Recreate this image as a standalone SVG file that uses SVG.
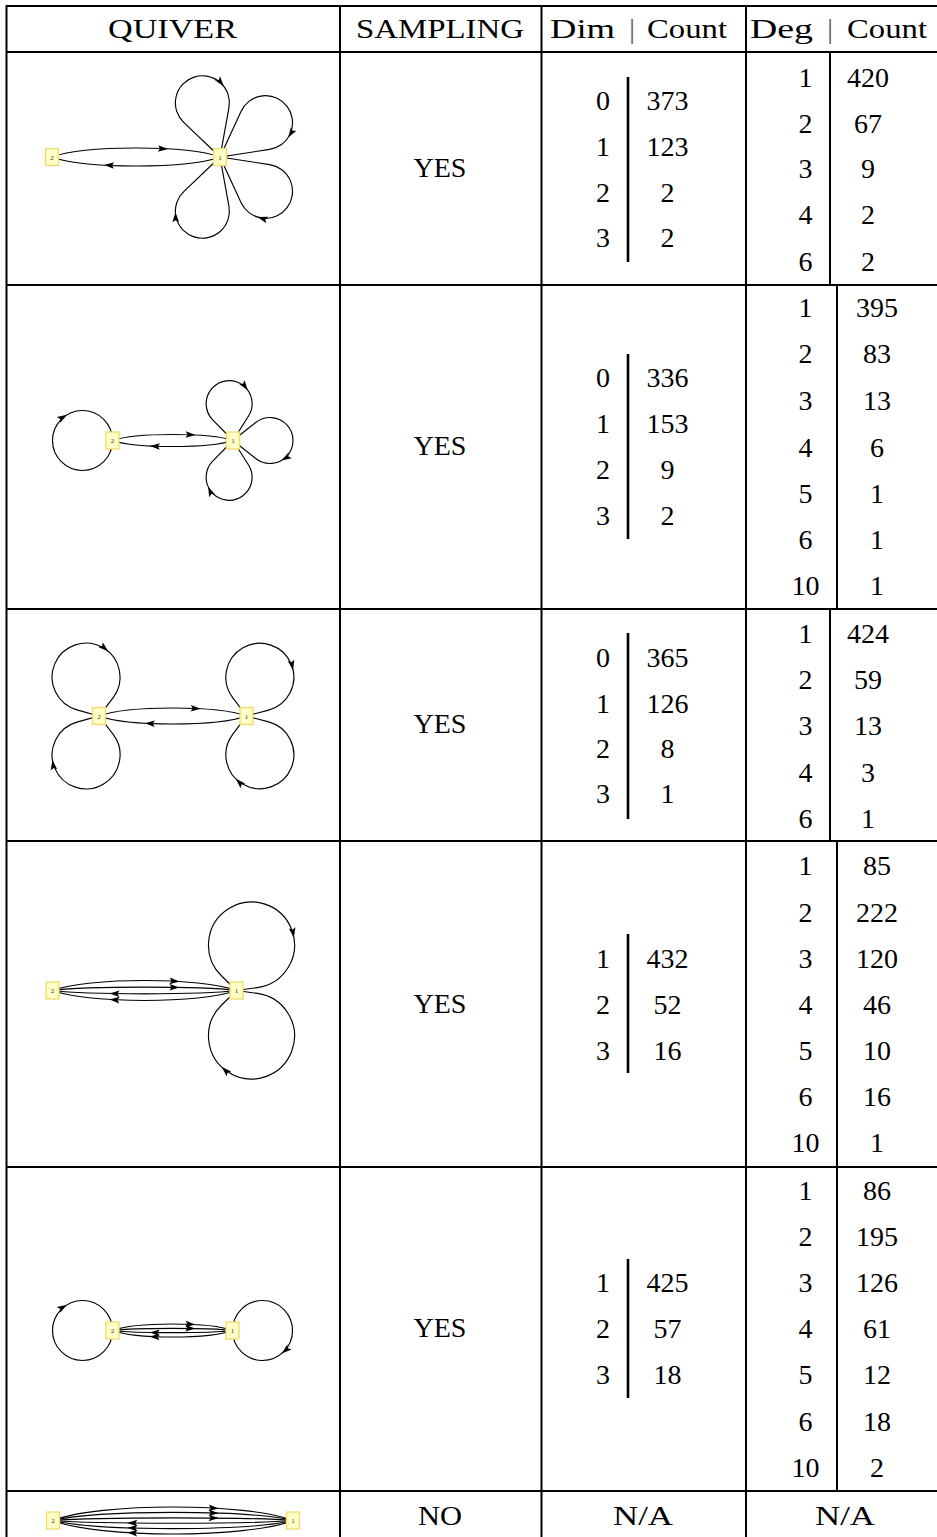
<svg xmlns="http://www.w3.org/2000/svg" width="937" height="1537" viewBox="0 0 937 1537">
<style>
.t{font-family:"Liberation Serif","DejaVu Serif","Times New Roman",serif;font-size:28px;fill:#000;text-anchor:middle}
.bar{font-family:"Liberation Serif","DejaVu Serif","Times New Roman",serif;font-size:28px;fill:#555;text-anchor:middle}
.nl{font-family:"Liberation Serif","DejaVu Serif",serif;font-size:7px;fill:#333;text-anchor:middle}
.node{fill:#ffffc6;stroke:#f0da6a;stroke-width:1.3}
.e{fill:none;stroke:#000;stroke-width:1.15}
.g{stroke:#000;stroke-width:2;fill:none}
.db{stroke:#000;stroke-width:2.6}
</style>
<defs>
<path id="ah" d="M0,0 L-10,-3.3 L-8,0 L-10,3.3 Z" fill="#000"/>
</defs>
<rect width="937" height="1537" fill="#fff"/>

<g id="grid">
<path class="g" d="M6,6 H937 M6,52 H937 M6,285 H937 M6,609 H937 M6,841 H937 M6,1167 H937 M6,1491 H937"/>
<path class="g" d="M6.5,5 V1537 M340,6 V1537 M541.5,6 V1537 M746,6 V1537"/>
<path class="g" d="M830,52 V285 M837,285 V609 M830,609 V841 M837,841 V1167 M837,1167 V1491"/>
<path class="db" d="M628,77 V262 M628,354 V539 M628,633 V819 M628,934 V1073 M628,1259 V1398"/>
</g>

<g id="header">
<text class="t" x="172.5" y="38" textLength="129" lengthAdjust="spacingAndGlyphs">QUIVER</text>
<text class="t" x="440" y="38" textLength="168" lengthAdjust="spacingAndGlyphs">SAMPLING</text>
<text class="t" x="582.5" y="38" textLength="65" lengthAdjust="spacingAndGlyphs">Dim</text>
<text class="bar" x="632" y="38">|</text>
<text class="t" x="687" y="38" textLength="80" lengthAdjust="spacingAndGlyphs">Count</text>
<text class="t" x="781.5" y="38" textLength="63" lengthAdjust="spacingAndGlyphs">Deg</text>
<text class="bar" x="830" y="38">|</text>
<text class="t" x="887" y="38" textLength="80" lengthAdjust="spacingAndGlyphs">Count</text>
</g>

<!-- Row 1 quiver -->
<g id="q1-edges">
<path class="e" d="M52,157 C85,145 187,145 220,157"/>
<path class="e" d="M220,157 C187,169 85,169 52,157"/>
<path class="e" d="M220,157 L183.73,122.30 A27,27 0 1 1 228.95,107.60 Z"/>
<path class="e" d="M220,157 L241.00,111.40 A27,27 0 1 1 269.62,149.38 Z"/>
<path class="e" d="M220,157 L269.62,164.62 A27,27 0 1 1 241.00,202.60 Z"/>
<path class="e" d="M220,157 L228.95,206.40 A27,27 0 1 1 183.73,191.70 Z"/>
<use href="#ah" transform="translate(168,149) rotate(3)"/>
<use href="#ah" transform="translate(104,165) rotate(183)"/>
<use href="#ah" transform="translate(223.7,86.2) rotate(52)"/>
<use href="#ah" transform="translate(288.2,137.4) rotate(123)"/>
<use href="#ah" transform="translate(257.6,217.1) rotate(197)"/>
<use href="#ah" transform="translate(175.4,212.2) rotate(268)"/>
</g>
<g id="q1-n2"><rect class="node" x="45.5" y="148.5" width="13" height="17"/><text class="nl" x="52" y="159.5">2</text></g>
<g id="q1-n1"><rect class="node" x="213.5" y="148.5" width="13" height="17"/><text class="nl" x="220" y="159.5">1</text></g>

<!-- Row 2 quiver -->
<g id="q2-edges">
<path class="e" d="M112.5,440.5 C136,432.5 209.5,432.5 233,440.5"/>
<path class="e" d="M233,440.5 C209.5,448.5 136,448.5 112.5,440.5"/>
<circle class="e" cx="82.5" cy="440.5" r="30"/>
<path class="e" d="M233,440.5 L212.71,419.81 A23,23 0 1 1 248.54,416.04 Z"/>
<path class="e" d="M233,440.5 L255.70,422.49 A23,23 0 1 1 255.70,458.51 Z"/>
<path class="e" d="M233,440.5 L248.54,464.96 A23,23 0 1 1 212.71,461.19 Z"/>
<use href="#ah" transform="translate(195.6,435.1) rotate(3)"/>
<use href="#ah" transform="translate(149.9,445.9) rotate(183)"/>
<use href="#ah" transform="translate(67.05,414.78) rotate(-31)"/>
<use href="#ah" transform="translate(247.74,390.18) rotate(54)"/>
<use href="#ah" transform="translate(281.5,460.42) rotate(150)"/>
<use href="#ah" transform="translate(208.12,486.65) rotate(246)"/>
</g>
<g id="q2-n2"><rect class="node" x="106" y="432" width="13" height="17"/><text class="nl" x="112.5" y="443">2</text></g>
<g id="q2-n1"><rect class="node" x="226.5" y="432" width="13" height="17"/><text class="nl" x="233" y="443">1</text></g>

<!-- Row 3 quiver -->
<g id="q3-edges">
<path class="e" d="M99,716 C128,705.3 217.5,705.3 246.5,716"/>
<path class="e" d="M246.5,716 C217.5,726.7 128,726.7 99,716"/>
<path class="e" d="M99,716 L76.93,709.85 A34,34 0 1 1 112.99,697.85 Z"/>
<path class="e" d="M99,716 L112.99,734.15 A34,34 0 1 1 76.93,722.15 Z"/>
<path class="e" d="M246.5,716 L232.70,697.71 A34,34 0 1 1 268.63,710.08 Z"/>
<path class="e" d="M246.5,716 L268.63,721.92 A34,34 0 1 1 232.70,734.29 Z"/>
<use href="#ah" transform="translate(200.7,708.8) rotate(3)"/>
<use href="#ah" transform="translate(144.8,723.2) rotate(183)"/>
<use href="#ah" transform="translate(108.19,651.28) rotate(40.6)"/>
<use href="#ah" transform="translate(52.44,759.98) rotate(261.4)"/>
<use href="#ah" transform="translate(293.11,670.16) rotate(78)"/>
<use href="#ah" transform="translate(235.81,778.81) rotate(225)"/>
</g>
<g id="q3-n2"><rect class="node" x="92.5" y="707.5" width="13" height="17"/><text class="nl" x="99" y="718.5">2</text></g>
<g id="q3-n1"><rect class="node" x="240" y="707.5" width="13" height="17"/><text class="nl" x="246.5" y="718.5">1</text></g>

<!-- Row 4 quiver -->
<g id="q4-edges">
<path class="e" d="M52.5,990.5 C88,977.2 201,977.2 236.5,990.5"/>
<path class="e" d="M52.5,990.5 C88,986.1 201,986.1 236.5,990.5"/>
<path class="e" d="M236.5,990.5 C201,994.9 88,994.9 52.5,990.5"/>
<path class="e" d="M236.5,990.5 C201,1003.8 88,1003.8 52.5,990.5"/>
<path class="e" d="M236.5,990.5 L221.42,975.74 A43,43 0 1 1 257.40,987.60 Z"/>
<path class="e" d="M236.5,990.5 L257.40,993.40 A43,43 0 1 1 221.42,1005.26 Z"/>
<use href="#ah" transform="translate(179.5,981.5) rotate(3.5)"/>
<use href="#ah" transform="translate(179.5,987.5) rotate(1.1)"/>
<use href="#ah" transform="translate(109.5,993.5) rotate(181.1)"/>
<use href="#ah" transform="translate(109.5,999.5) rotate(183.5)"/>
<use href="#ah" transform="translate(293.88,937.73) rotate(80)"/>
<use href="#ah" transform="translate(221.77,1067.05) rotate(224)"/>
</g>
<g id="q4-n2"><rect class="node" x="46" y="982" width="13" height="17"/><text class="nl" x="52.5" y="993">2</text></g>
<g id="q4-n1"><rect class="node" x="230" y="982" width="13" height="17"/><text class="nl" x="236.5" y="993">1</text></g>

<!-- Row 5 quiver -->
<g id="q5-edges">
<path class="e" d="M112.5,1330.5 C135.5,1321.8 209.5,1321.8 232.5,1330.5"/>
<path class="e" d="M112.5,1330.5 C135.5,1327.6 209.5,1327.6 232.5,1330.5"/>
<path class="e" d="M232.5,1330.5 C209.5,1333.4 135.5,1333.4 112.5,1330.5"/>
<path class="e" d="M232.5,1330.5 C209.5,1339.2 135.5,1339.2 112.5,1330.5"/>
<circle class="e" cx="82.5" cy="1330.5" r="30"/>
<circle class="e" cx="262.5" cy="1330.5" r="30"/>
<use href="#ah" transform="translate(195.4,1324.6) rotate(3.3)"/>
<use href="#ah" transform="translate(195.4,1328.5) rotate(1.1)"/>
<use href="#ah" transform="translate(149.6,1332.5) rotate(181.1)"/>
<use href="#ah" transform="translate(149.6,1336.4) rotate(183.3)"/>
<use href="#ah" transform="translate(67.05,1304.78) rotate(-31)"/>
<use href="#ah" transform="translate(281.78,1353.48) rotate(140)"/>
</g>
<g id="q5-n2"><rect class="node" x="106" y="1322" width="13" height="17"/><text class="nl" x="112.5" y="1333">2</text></g>
<g id="q5-n1"><rect class="node" x="226" y="1322" width="13" height="17"/><text class="nl" x="232.5" y="1333">1</text></g>

<!-- Row 6 quiver -->
<g id="q6-edges">
<path class="e" d="M53,1520.5 C99,1502.5 247,1502.5 293,1520.5"/>
<path class="e" d="M53,1520.5 C99,1509.7 247,1509.7 293,1520.5"/>
<path class="e" d="M53,1520.5 C99,1516.9 247,1516.9 293,1520.5"/>
<path class="e" d="M293,1520.5 C247,1524.1 99,1524.1 53,1520.5"/>
<path class="e" d="M293,1520.5 C247,1531.3 99,1531.3 53,1520.5"/>
<path class="e" d="M293,1520.5 C247,1538.5 99,1538.5 53,1520.5"/>
<use href="#ah" transform="translate(218.7,1508.4) rotate(3.6)"/>
<use href="#ah" transform="translate(218.7,1513.2) rotate(2.2)"/>
<use href="#ah" transform="translate(218.7,1518.1) rotate(0.7)"/>
<use href="#ah" transform="translate(127.3,1522.9) rotate(180.7)"/>
<use href="#ah" transform="translate(127.3,1527.8) rotate(182.2)"/>
<use href="#ah" transform="translate(127.3,1532.6) rotate(183.6)"/>
</g>
<g id="q6-n2"><rect class="node" x="46.5" y="1512" width="13" height="17"/><text class="nl" x="53" y="1523">2</text></g>
<g id="q6-n1"><rect class="node" x="286.5" y="1512" width="13" height="17"/><text class="nl" x="293" y="1523">1</text></g>

<g id="sampling">
<text class="t" x="440" y="177">YES</text>
<text class="t" x="440" y="455">YES</text>
<text class="t" x="440" y="733">YES</text>
<text class="t" x="440" y="1013">YES</text>
<text class="t" x="440" y="1337">YES</text>
<text class="t" x="440" y="1525" textLength="44" lengthAdjust="spacingAndGlyphs">NO</text>
</g>

<g id="dim">
<text class="t" x="603" y="110">0</text><text class="t" x="667.5" y="110">373</text>
<text class="t" x="603" y="156">1</text><text class="t" x="667.5" y="156">123</text>
<text class="t" x="603" y="201.5">2</text><text class="t" x="667.5" y="201.5">2</text>
<text class="t" x="603" y="247">3</text><text class="t" x="667.5" y="247">2</text>

<text class="t" x="603" y="387">0</text><text class="t" x="667.5" y="387">336</text>
<text class="t" x="603" y="433">1</text><text class="t" x="667.5" y="433">153</text>
<text class="t" x="603" y="479">2</text><text class="t" x="667.5" y="479">9</text>
<text class="t" x="603" y="525">3</text><text class="t" x="667.5" y="525">2</text>

<text class="t" x="603" y="667">0</text><text class="t" x="667.5" y="667">365</text>
<text class="t" x="603" y="713">1</text><text class="t" x="667.5" y="713">126</text>
<text class="t" x="603" y="758">2</text><text class="t" x="667.5" y="758">8</text>
<text class="t" x="603" y="803">3</text><text class="t" x="667.5" y="803">1</text>

<text class="t" x="603" y="968">1</text><text class="t" x="667.5" y="968">432</text>
<text class="t" x="603" y="1014">2</text><text class="t" x="667.5" y="1014">52</text>
<text class="t" x="603" y="1060">3</text><text class="t" x="667.5" y="1060">16</text>

<text class="t" x="603" y="1292">1</text><text class="t" x="667.5" y="1292">425</text>
<text class="t" x="603" y="1338">2</text><text class="t" x="667.5" y="1338">57</text>
<text class="t" x="603" y="1384">3</text><text class="t" x="667.5" y="1384">18</text>

<text class="t" x="643" y="1525" textLength="60" lengthAdjust="spacingAndGlyphs">N/A</text>
</g>

<g id="deg">
<text class="t" x="805.5" y="87">1</text><text class="t" x="868" y="87">420</text>
<text class="t" x="805.5" y="132.5">2</text><text class="t" x="868" y="132.5">67</text>
<text class="t" x="805.5" y="178">3</text><text class="t" x="868" y="178">9</text>
<text class="t" x="805.5" y="224">4</text><text class="t" x="868" y="224">2</text>
<text class="t" x="805.5" y="270.5">6</text><text class="t" x="868" y="270.5">2</text>

<text class="t" x="805.5" y="317">1</text><text class="t" x="877" y="317">395</text>
<text class="t" x="805.5" y="363">2</text><text class="t" x="877" y="363">83</text>
<text class="t" x="805.5" y="410">3</text><text class="t" x="877" y="410">13</text>
<text class="t" x="805.5" y="456.5">4</text><text class="t" x="877" y="456.5">6</text>
<text class="t" x="805.5" y="503">5</text><text class="t" x="877" y="503">1</text>
<text class="t" x="805.5" y="549">6</text><text class="t" x="877" y="549">1</text>
<text class="t" x="805.5" y="595">10</text><text class="t" x="877" y="595">1</text>

<text class="t" x="805.5" y="643">1</text><text class="t" x="868" y="643">424</text>
<text class="t" x="805.5" y="689">2</text><text class="t" x="868" y="689">59</text>
<text class="t" x="805.5" y="735">3</text><text class="t" x="868" y="735">13</text>
<text class="t" x="805.5" y="782">4</text><text class="t" x="868" y="782">3</text>
<text class="t" x="805.5" y="828">6</text><text class="t" x="868" y="828">1</text>

<text class="t" x="805.5" y="875">1</text><text class="t" x="877" y="875">85</text>
<text class="t" x="805.5" y="922">2</text><text class="t" x="877" y="922">222</text>
<text class="t" x="805.5" y="968">3</text><text class="t" x="877" y="968">120</text>
<text class="t" x="805.5" y="1014">4</text><text class="t" x="877" y="1014">46</text>
<text class="t" x="805.5" y="1060">5</text><text class="t" x="877" y="1060">10</text>
<text class="t" x="805.5" y="1106">6</text><text class="t" x="877" y="1106">16</text>
<text class="t" x="805.5" y="1152">10</text><text class="t" x="877" y="1152">1</text>

<text class="t" x="805.5" y="1200">1</text><text class="t" x="877" y="1200">86</text>
<text class="t" x="805.5" y="1246">2</text><text class="t" x="877" y="1246">195</text>
<text class="t" x="805.5" y="1292">3</text><text class="t" x="877" y="1292">126</text>
<text class="t" x="805.5" y="1338">4</text><text class="t" x="877" y="1338">61</text>
<text class="t" x="805.5" y="1384">5</text><text class="t" x="877" y="1384">12</text>
<text class="t" x="805.5" y="1431">6</text><text class="t" x="877" y="1431">18</text>
<text class="t" x="805.5" y="1477">10</text><text class="t" x="877" y="1477">2</text>

<text class="t" x="845" y="1525" textLength="60" lengthAdjust="spacingAndGlyphs">N/A</text>
</g>
</svg>
